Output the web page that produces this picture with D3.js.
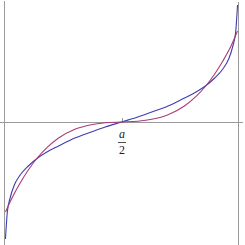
<!DOCTYPE html>
<html>
<head>
<meta charset="utf-8">
<script src="https://cdn.jsdelivr.net/npm/d3@7"></script>
<style>
  html, body { margin: 0; padding: 0; background: #fff; }
  svg { display: block; }
  .axis-line { stroke: #9a9a9a; stroke-width: 1; }
  .curve { fill: none; stroke-width: 1.1; }
  .frac { font-family: 'Liberation Serif', 'DejaVu Serif', serif; font-size: 12px; fill: #222; }
</style>
</head>
<body>
<svg width="245" height="245"></svg>
<script>
// Values: x in units of a (0..1), y in plot units.
var tanCurve = [
  [0.002, -1.17], [0.010, -0.90], [0.022, -0.76], [0.040, -0.63], [0.065, -0.53],
  [0.100, -0.44], [0.140, -0.36], [0.180, -0.30], [0.230, -0.24], [0.300, -0.16],
  [0.370, -0.10], [0.430, -0.05], [0.500, 0.00], [0.570, 0.05], [0.630, 0.10],
  [0.700, 0.16], [0.770, 0.24], [0.820, 0.30], [0.860, 0.36], [0.900, 0.44],
  [0.935, 0.53], [0.960, 0.63], [0.978, 0.76], [0.990, 0.90], [0.998, 1.17]
];
var cubicCurve = [
  [0.002, -0.90], [0.030, -0.76], [0.065, -0.61], [0.100, -0.48], [0.140, -0.355],
  [0.180, -0.256], [0.230, -0.16], [0.300, -0.073], [0.370, -0.027], [0.430, -0.008],
  [0.500, 0.00], [0.570, 0.008], [0.630, 0.027], [0.700, 0.073], [0.770, 0.16],
  [0.820, 0.256], [0.860, 0.355], [0.900, 0.48], [0.935, 0.61], [0.970, 0.76],
  [0.998, 0.91]
];
var tickValues = [0.5];
var tickNumerator = 'a', tickDenominator = '2';

var svg = d3.select('svg');
var width = +svg.attr('width'), height = +svg.attr('height');

var x = d3.scaleLinear().domain([0, 1]).range([5, 238]);
var y = d3.scaleLinear().domain([-1.2, 1.2]).range([242, 2]);

//Axes: horizontal through y = 0, vertical at x = 0 and the line at x = a.
svg.append('line').attr('class', 'axis-line')
  .attr('x1', 0).attr('x2', 243)
  .attr('y1', Math.round(y(0)) + 0.5).attr('y2', Math.round(y(0)) + 0.5);
svg.append('line').attr('class', 'axis-line')
  .attr('x1', Math.round(x(0)) - 0.5).attr('x2', Math.round(x(0)) - 0.5)
  .attr('y1', 1).attr('y2', height);
svg.append('line').attr('class', 'axis-line')
  .attr('x1', Math.round(x(1)) + 0.5).attr('x2', Math.round(x(1)) + 0.5)
  .attr('y1', 2).attr('y2', height);

//Tick at a/2.
svg.selectAll('.tick').data(tickValues).enter().append('line')
  .attr('class', 'axis-line')
  .attr('x1', function(d) { return Math.round(x(d)) + 0.5; })
  .attr('x2', function(d) { return Math.round(x(d)) + 0.5; })
  .attr('y1', y(0) - 4).attr('y2', y(0));

//Curves.
var line = d3.line()
  .x(function(d) { return x(d[0]); })
  .y(function(d) { return y(d[1]); })
  .curve(d3.curveMonotoneX);
svg.append('path').datum(tanCurve).attr('class', 'curve')
  .attr('stroke', '#3d3db0').attr('d', line);
svg.append('path').datum(cubicCurve).attr('class', 'curve')
  .attr('stroke', '#a83d78').attr('d', line);

//Tick label as a fraction.
var lx = x(tickValues[0]) + 0.5;
svg.append('text').attr('class', 'frac')
  .attr('x', lx).attr('y', 138).attr('text-anchor', 'middle')
  .style('font-style', 'italic').text(tickNumerator);
svg.append('line')
  .attr('x1', lx - 4).attr('x2', lx + 4)
  .attr('y1', 142.5).attr('y2', 142.5)
  .style('stroke', '#222').style('stroke-width', 0.8);
svg.append('text').attr('class', 'frac')
  .attr('x', lx).attr('y', 154).attr('text-anchor', 'middle')
  .text(tickDenominator);
</script>
</body>
</html>
